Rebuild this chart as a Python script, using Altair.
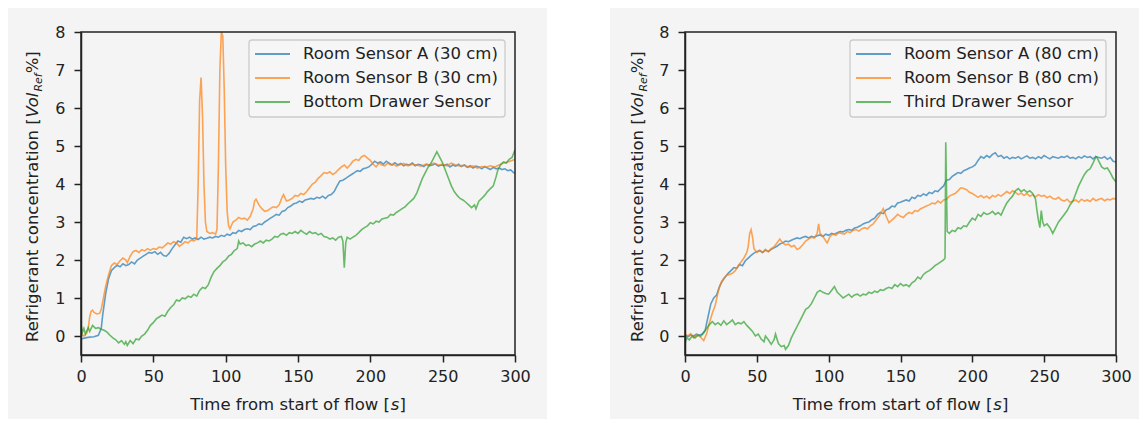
import altair as alt
import pandas as pd

# ---------------- data ----------------
LEFT_A = [(0,-0.08),(3,-0.05),(6,-0.03),(9,-0.02),(12,0.02),(14,0.2),(15,0.55),(17,1.1),(19,1.5),(21,1.72),
(23,1.8),(25,1.86),(27,1.82),(29,1.9),(31,1.85),(33,1.88),(35,1.95),(37,1.9),(39,2.0),(41,2.05),(43,2.1),
(45,2.15),(47,2.2),(49,2.18),(51,2.22),(53,2.15),(55,2.2),(57,2.12),(59,2.1),(61,2.18),(63,2.3),(65,2.4),
(67,2.5),(69,2.47),(71,2.6),(73,2.56),(75,2.6),(77,2.55),(79,2.58),(81,2.54),(83,2.6),(85,2.55),(87,2.57),
(89,2.6),(91,2.58),(93,2.62),(95,2.6),(97,2.65),(99,2.62),(101,2.68),(103,2.65),(105,2.72),(107,2.7),
(109,2.78),(111,2.75),(113,2.8),(115,2.82),(117,2.8),(119,2.88),(121,2.9),(123,2.95),(125,2.93),(127,3.0),
(129,3.05),(131,3.1),(133,3.15),(135,3.2),(137,3.18),(139,3.28),(141,3.3),(143,3.38),(145,3.42),(147,3.48),
(149,3.5),(151,3.55),(153,3.52),(155,3.58),(157,3.6),(159,3.62),(161,3.6),(163,3.65),(165,3.63),(167,3.68),
(169,3.62),(171,3.7),(173,3.72),(175,3.8),(177,3.95),(179,4.08),(181,4.1),(183,4.15),(185,4.2),(187,4.25),
(189,4.3),(191,4.35),(193,4.33),(195,4.4),(197,4.42),(199,4.45),(201,4.52),(203,4.6),(205,4.55),(207,4.58),
(209,4.52),(211,4.6),(213,4.55),(215,4.5),(217,4.56),(219,4.5),(221,4.54),(223,4.48),(225,4.52),(227,4.5),
(229,4.55),(231,4.48),(233,4.52),(235,4.5),(237,4.46),(239,4.52),(241,4.48),(243,4.5),(245,4.53),(247,4.47),
(249,4.5),(251,4.48),(253,4.52),(255,4.45),(257,4.5),(259,4.47),(261,4.52),(263,4.46),(265,4.5),(267,4.44),
(269,4.48),(271,4.42),(273,4.47),(275,4.45),(277,4.4),(279,4.46),(281,4.42),(283,4.38),(285,4.44),(287,4.4),
(289,4.42),(291,4.38),(293,4.4),(295,4.35),(297,4.37),(299,4.3),(300,4.28)]

LEFT_B = [(0,0.05),(2,0.0),(4,0.08),(5,0.2),(6,0.5),(7,0.65),(8,0.68),(9,0.62),(11,0.58),(13,0.6),(14,0.7),
(15,0.9),(17,1.3),(19,1.6),(21,1.85),(23,1.92),(25,1.88),(27,1.98),(29,2.05),(31,2.0),(32,1.93),(34,2.1),
(36,2.22),(38,2.25),(40,2.2),(42,2.27),(44,2.24),(46,2.3),(48,2.26),(50,2.3),(52,2.28),(54,2.34),(56,2.32),
(58,2.38),(60,2.45),(62,2.42),(64,2.48),(66,2.45),(68,2.36),(70,2.42),(72,2.48),(74,2.45),(76,2.52),(78,2.5),
(80,2.55),(81,4.0),(82,6.2),(83,6.8),(84,5.8),(85,4.0),(86,3.0),(87,2.75),(89,2.7),(91,2.72),(93,2.68),
(94,2.8),(95,4.5),(96,7.0),(97,8.0),(98,7.9),(99,6.5),(100,4.5),(101,3.3),(102,2.9),(103,2.82),(105,3.0),
(107,3.05),(109,3.12),(111,3.08),(113,3.1),(115,3.05),(117,3.15),(119,3.35),(120,3.55),(121,3.6),(123,3.45),
(125,3.35),(127,3.28),(129,3.3),(131,3.36),(133,3.4),(135,3.38),(137,3.45),(139,3.65),(140,3.72),(142,3.55),
(144,3.58),(146,3.62),(148,3.7),(150,3.68),(152,3.75),(154,3.72),(156,3.8),(158,3.9),(160,4.0),(162,4.05),
(164,4.15),(166,4.22),(168,4.3),(170,4.28),(172,4.32),(174,4.25),(176,4.3),(178,4.38),(180,4.45),(182,4.5),
(184,4.42),(186,4.5),(188,4.6),(190,4.65),(192,4.62),(194,4.72),(196,4.75),(198,4.68),(200,4.62),(202,4.52),
(204,4.45),(206,4.55),(208,4.5),(210,4.48),(212,4.55),(214,4.5),(216,4.52),(218,4.47),(220,4.5),(223,4.54),
(226,4.48),(229,4.52),(232,4.5),(235,4.47),(238,4.52),(241,4.5),(244,4.55),(247,4.5),(250,4.52),(253,4.48),
(256,4.55),(259,4.5),(262,4.47),(265,4.5),(268,4.44),(271,4.48),(274,4.42),(277,4.46),(280,4.44),(283,4.48),
(286,4.45),(289,4.5),(292,4.55),(295,4.58),(298,4.62),(300,4.65)]

LEFT_C = [(0,0.3),(1,0.1),(2,0.2),(3,0.05),(5,0.22),(6,0.12),(8,0.28),(10,0.2),(12,0.22),(14,0.18),(16,0.15),
(18,0.1),(20,0.02),(22,-0.05),(24,-0.1),(26,-0.18),(28,-0.12),(30,-0.22),(31,-0.15),(32,-0.25),(34,-0.12),
(36,-0.2),(38,-0.08),(40,-0.1),(42,0.0),(44,0.05),(46,0.15),(48,0.28),(50,0.35),(52,0.45),(54,0.5),(56,0.55),
(58,0.52),(60,0.65),(62,0.75),(64,0.82),(66,0.95),(68,0.92),(70,1.0),(72,0.98),(74,1.05),(76,1.02),(78,1.1),
(80,1.05),(82,1.2),(84,1.28),(86,1.25),(88,1.35),(90,1.55),(92,1.7),(94,1.78),(96,1.85),(98,1.95),(100,2.0),
(102,2.1),(104,2.15),(106,2.25),(108,2.3),(109,2.5),(110,2.42),(112,2.45),(114,2.38),(116,2.4),(118,2.35),
(120,2.42),(122,2.45),(124,2.5),(126,2.45),(128,2.52),(130,2.5),(132,2.55),(134,2.62),(136,2.6),(138,2.68),
(140,2.7),(142,2.65),(144,2.72),(146,2.7),(148,2.75),(150,2.7),(152,2.78),(154,2.72),(156,2.68),(158,2.75),
(160,2.7),(162,2.72),(164,2.66),(166,2.7),(168,2.62),(170,2.6),(172,2.55),(174,2.58),(176,2.52),(178,2.6),
(180,2.62),(181,2.5),(182,1.8),(183,2.45),(184,2.6),(186,2.55),(188,2.6),(190,2.65),(192,2.72),(194,2.8),
(196,2.85),(198,2.9),(200,2.98),(202,2.95),(204,3.02),(206,3.0),(208,3.08),(210,3.1),(212,3.12),(214,3.2),
(216,3.18),(218,3.25),(220,3.3),(222,3.35),(224,3.4),(226,3.48),(228,3.55),(230,3.62),(232,3.75),(234,3.95),
(236,4.15),(238,4.3),(240,4.45),(242,4.55),(244,4.7),(246,4.85),(248,4.7),(250,4.55),(252,4.35),(254,4.15),
(256,3.95),(258,3.8),(260,3.7),(262,3.62),(264,3.58),(266,3.52),(268,3.45),(270,3.38),(272,3.45),(273,3.35),
(275,3.55),(277,3.62),(279,3.7),(281,3.8),(283,3.88),(285,3.95),(287,4.2),(288,4.35),(290,4.5),(292,4.58),
(294,4.55),(296,4.65),(298,4.7),(300,4.9)]

RIGHT_A = [(0,0.02),(2,-0.02),(4,0.03),(6,0.0),(8,0.05),(10,0.02),(12,0.05),(14,0.15),(16,0.5),(18,0.85),
(20,1.0),(22,1.08),(24,1.3),(26,1.45),(28,1.55),(30,1.65),(32,1.72),(34,1.8),(36,1.78),(38,1.88),(40,1.85),
(42,1.98),(44,2.05),(46,2.12),(48,2.18),(50,2.22),(52,2.25),(54,2.2),(56,2.26),(58,2.22),(60,2.28),(62,2.32),
(64,2.36),(66,2.42),(68,2.45),(70,2.5),(72,2.48),(74,2.52),(76,2.55),(78,2.58),(80,2.56),(82,2.6),(84,2.62),
(86,2.58),(88,2.62),(90,2.6),(92,2.64),(94,2.66),(96,2.62),(98,2.68),(100,2.65),(102,2.7),(104,2.68),
(106,2.72),(108,2.75),(110,2.74),(112,2.78),(114,2.8),(116,2.78),(118,2.84),(120,2.86),(122,2.9),(124,2.95),
(126,2.98),(128,3.0),(130,3.06),(132,3.1),(134,3.2),(136,3.25),(138,3.22),(140,3.32),(142,3.35),(144,3.42),
(146,3.4),(148,3.5),(150,3.52),(152,3.55),(154,3.58),(156,3.55),(158,3.65),(160,3.62),(162,3.7),(164,3.68),
(166,3.74),(168,3.7),(170,3.78),(172,3.75),(174,3.82),(176,3.8),(178,3.88),(180,3.95),(182,4.1),(184,4.12),
(186,4.2),(188,4.25),(190,4.3),(192,4.28),(194,4.35),(196,4.38),(198,4.42),(200,4.45),(202,4.5),(204,4.62),
(206,4.72),(208,4.68),(210,4.75),(212,4.7),(214,4.78),(216,4.82),(218,4.72),(220,4.75),(222,4.68),(224,4.72),
(226,4.66),(228,4.7),(230,4.68),(232,4.72),(234,4.66),(236,4.7),(238,4.74),(240,4.68),(242,4.7),(244,4.66),
(246,4.72),(248,4.68),(250,4.75),(252,4.7),(254,4.66),(256,4.72),(258,4.7),(260,4.68),(262,4.72),(264,4.7),
(266,4.74),(268,4.68),(270,4.7),(272,4.66),(274,4.72),(276,4.68),(278,4.74),(280,4.7),(282,4.72),(284,4.66),
(286,4.72),(288,4.7),(290,4.68),(292,4.72),(294,4.65),(296,4.7),(298,4.6),(300,4.58)]

RIGHT_B = [(0,0.05),(2,0.0),(4,0.06),(6,-0.05),(8,0.02),(10,0.0),(12,-0.08),(13,-0.12),(15,0.05),(17,0.35),
(19,0.6),(21,0.8),(23,1.15),(25,1.4),(27,1.52),(29,1.6),(31,1.62),(33,1.65),(35,1.72),(37,1.85),(39,1.95),
(41,2.05),(43,2.2),(44,2.35),(45,2.7),(46,2.8),(47,2.6),(48,2.3),(50,2.2),(52,2.25),(54,2.2),(56,2.28),
(58,2.22),(60,2.3),(62,2.35),(64,2.45),(66,2.55),(68,2.45),(70,2.4),(72,2.42),(74,2.35),(76,2.38),(78,2.28),
(80,2.32),(82,2.4),(84,2.5),(86,2.55),(88,2.6),(90,2.58),(92,2.7),(93,2.95),(94,2.7),(96,2.62),(98,2.5),
(99,2.45),(101,2.62),(103,2.68),(105,2.65),(107,2.72),(109,2.7),(111,2.68),(113,2.75),(115,2.72),(117,2.78),
(119,2.8),(121,2.76),(123,2.82),(125,2.85),(127,2.82),(129,2.9),(131,2.95),(133,3.05),(135,3.15),(137,3.28),
(138,3.35),(140,3.15),(142,2.98),(144,3.05),(146,3.12),(148,3.2),(150,3.15),(152,3.12),(154,3.2),(156,3.25),
(158,3.22),(160,3.3),(162,3.28),(164,3.35),(166,3.38),(168,3.42),(170,3.45),(172,3.5),(174,3.48),(176,3.55),
(178,3.5),(180,3.58),(182,3.6),(184,3.68),(186,3.72),(188,3.75),(190,3.82),(192,3.9),(194,3.88),(196,3.85),
(198,3.78),(200,3.75),(202,3.7),(204,3.65),(206,3.7),(208,3.64),(210,3.68),(212,3.62),(214,3.7),(216,3.66),
(218,3.72),(220,3.68),(222,3.74),(224,3.8),(226,3.75),(228,3.82),(230,3.78),(232,3.72),(234,3.76),(236,3.7),
(238,3.75),(240,3.68),(242,3.72),(244,3.66),(246,3.72),(248,3.68),(250,3.7),(252,3.64),(254,3.68),(256,3.62),
(258,3.6),(260,3.65),(262,3.58),(264,3.55),(266,3.6),(268,3.52),(270,3.55),(272,3.58),(274,3.52),(276,3.6),
(278,3.55),(280,3.58),(282,3.54),(284,3.62),(286,3.56),(288,3.6),(290,3.62),(292,3.56),(294,3.6),(296,3.58),
(298,3.62),(300,3.6)]

RIGHT_C = [(0,-0.2),(1,-0.05),(3,-0.1),(5,0.0),(7,-0.05),(9,0.02),(11,0.0),(13,0.08),(15,0.2),(17,0.3),
(19,0.38),(21,0.3),(23,0.35),(25,0.28),(27,0.4),(29,0.3),(31,0.36),(33,0.42),(35,0.3),(37,0.35),(39,0.32),
(41,0.38),(43,0.28),(45,0.2),(47,0.12),(49,0.0),(51,0.05),(53,-0.08),(55,-0.15),(56,0.0),(58,-0.1),(60,-0.22),
(62,-0.1),(63,0.05),(65,-0.2),(67,-0.28),(69,-0.25),(70,-0.35),(72,-0.25),(74,-0.05),(76,0.1),(78,0.25),
(80,0.4),(82,0.55),(84,0.7),(86,0.75),(88,0.85),(90,1.0),(92,1.15),(94,1.2),(96,1.15),(98,1.12),(100,1.1),
(102,1.2),(104,1.3),(106,1.15),(108,1.08),(110,1.0),(112,1.05),(114,1.1),(116,1.02),(118,1.08),(120,1.1),
(122,1.05),(124,1.1),(126,1.08),(128,1.15),(130,1.12),(132,1.18),(134,1.15),(136,1.22),(138,1.2),(140,1.25),
(142,1.28),(144,1.25),(146,1.35),(148,1.3),(150,1.38),(152,1.32),(154,1.35),(156,1.3),(158,1.4),(160,1.45),
(162,1.55),(164,1.5),(166,1.62),(168,1.68),(170,1.72),(172,1.78),(174,1.85),(176,1.9),(178,1.95),(180,2.0),
(181,2.05),(181.5,5.1),(182.5,2.75),(184,2.7),(186,2.78),(188,2.75),(190,2.85),(192,2.82),(194,2.9),
(196,2.88),(198,3.0),(200,3.1),(202,3.05),(204,3.2),(206,3.15),(208,3.25),(210,3.2),(212,3.22),(214,3.28),
(216,3.2),(218,3.25),(220,3.18),(222,3.35),(224,3.5),(226,3.6),(228,3.68),(230,3.82),(232,3.88),(234,3.8),
(236,3.85),(238,3.78),(240,3.82),(242,3.75),(244,3.6),(245,3.3),(246,3.05),(247,2.85),(248,3.3),(249,3.0),
(250,2.9),(252,2.95),(254,2.85),(256,2.7),(258,2.85),(260,3.0),(262,3.1),(264,3.2),(266,3.3),(268,3.45),
(270,3.55),(272,3.75),(274,3.95),(276,4.1),(278,4.25),(280,4.35),(282,4.4),(284,4.55),(286,4.72),(287,4.68),
(288,4.6),(290,4.45),(292,4.4),(294,4.42),(296,4.3),(298,4.15),(300,4.05)]

LEFT_NAMES = ["Room Sensor A (30 cm)", "Room Sensor B (30 cm)", "Bottom Drawer Sensor"]
RIGHT_NAMES = ["Room Sensor A (80 cm)", "Room Sensor B (80 cm)", "Third Drawer Sensor"]
COLORS = ["#1f77b4", "#ff7f0e", "#2ca02c"]
X_TICKS = [0, 50, 100, 150, 200, 250, 300]
Y_TICKS = [0, 1, 2, 3, 4, 5, 6, 7, 8]
Y_TITLE = ["Refrigerant concentration [", "Vol", "Ref", "%]"]
X_TITLE = ["Time from start of flow [", "s", "]"]

# ---------------- style ----------------
FONT = "DejaVu Sans"
BG = "#f4f4f4"
INK = "#222222"
FS = 16.5
# DejaVu Sans advance widths (units per em = 2048) for text placement
ADV = {"R":1423,"e":1260,"f":721,"r":842,"i":569,"g":1300,"a":1255,"n":1298,"t":803," ":651,"c":1126,
       "o":1253,"[":799,"V":1401,"l":569,"%":1946,"]":799,"T":1251,"m":1995,"s":1067,"w":1675}


def tw(s, size):
    return sum(ADV.get(ch, 1200) for ch in s) / 2048.0 * size


ONE = pd.DataFrame({"k": [0]})


def txt(text, x, y, size=FS, italic=False, angle=0, align="left", baseline="alphabetic"):
    kw = dict(text=text, font=FONT, fontSize=size, color=INK, align=align, baseline=baseline, angle=angle)
    if italic:
        kw["fontStyle"] = "italic"
    return alt.Chart(ONE).mark_text(**kw).encode(x=alt.value(x), y=alt.value(y))


def panel(series, names, W, H, bg_left, bg_right, ytx):
    rows = []
    for name, pts in zip(names, series):
        for t, v in pts:
            rows.append({"t": t, "v": v, "s": name})
    df = pd.DataFrame(rows)

    bg = alt.Chart(ONE).mark_rect(color=BG).encode(
        x=alt.value(bg_left), x2=alt.value(W + bg_right), y=alt.value(-24), y2=alt.value(H + 64))

    axis_common = dict(title=None, grid=False, zindex=1, domainColor=INK, domainWidth=1.5,
                       tickColor=INK, tickWidth=1.5, tickSize=7, labelFont=FONT, labelFontSize=16,
                       labelColor=INK, labelFlush=False, labelOverlap=False, labelBound=False)
    lines = alt.Chart(df).mark_line(strokeWidth=1.6, opacity=0.7, clip=True).encode(
        x=alt.X("t:Q", scale=alt.Scale(domain=[0, 300], nice=False, zero=False),
                axis=alt.Axis(values=X_TICKS, labelPadding=6, **axis_common)),
        y=alt.Y("v:Q", scale=alt.Scale(domain=[-0.5, 8], nice=False, zero=False),
                axis=alt.Axis(values=Y_TICKS, labelPadding=9, **axis_common)),
        color=alt.Color("s:N", scale=alt.Scale(domain=names, range=COLORS), legend=None),
    )

    frame = alt.Chart(ONE).mark_rect(fillOpacity=0, stroke=INK, strokeWidth=1.5).encode(
        x=alt.value(0), x2=alt.value(W), y=alt.value(0), y2=alt.value(H))

    # legend box (upper right, inside the plot)
    lx0, lx1 = W - 266, W - 10
    box = alt.Chart(ONE).mark_rect(fill="#f6f6f6", stroke="#cccccc", strokeWidth=1.3, cornerRadius=3).encode(
        x=alt.value(lx0), x2=alt.value(lx1), y=alt.value(8), y2=alt.value(85))
    layers = [bg, lines, frame, box]
    for i, (nm, col) in enumerate(zip(names, COLORS)):
        yy = 22 + 24 * i
        layers.append(alt.Chart(ONE).mark_rule(color=col, strokeWidth=2, opacity=0.7).encode(
            x=alt.value(lx0 + 6), x2=alt.value(lx0 + 41), y=alt.value(yy)))
        layers.append(txt(nm, lx0 + 54, yy, baseline="middle"))

    # y-axis title (rotated, with italic Vol and subscript Ref)
    y0 = 310
    w1 = tw(Y_TITLE[0], FS)
    w2 = tw(Y_TITLE[1], FS)
    w3 = tw(Y_TITLE[2], 11)
    layers.append(txt(Y_TITLE[0], ytx, y0, angle=270))
    layers.append(txt(Y_TITLE[1], ytx, y0 - w1, italic=True, angle=270))
    layers.append(txt(Y_TITLE[2], ytx + 3.5, y0 - w1 - w2, size=11, italic=True, angle=270))
    layers.append(txt(Y_TITLE[3], ytx, y0 - w1 - w2 - w3, angle=270))

    # x-axis title with italic s
    a = tw(X_TITLE[0], FS)
    b = tw(X_TITLE[1], FS)
    c = tw(X_TITLE[2], FS)
    xs = W / 2 - (a + b + c) / 2
    layers.append(txt(X_TITLE[0], xs, 378))
    layers.append(txt(X_TITLE[1], xs + a, 378, italic=True))
    layers.append(txt(X_TITLE[2], xs + a + b, 378))

    return alt.layer(*layers).properties(width=W, height=H)


left = panel([LEFT_A, LEFT_B, LEFT_C], LEFT_NAMES, 434, 323, -73, 32, -43)
right = panel([RIGHT_A, RIGHT_B, RIGHT_C], RIGHT_NAMES, 431, 323, -75, 23, -42)

chart = alt.hconcat(left, right, spacing=63).properties(padding=0, background="white").configure_view(
    stroke=None)

chart.save("out.html", embed_options={"renderer": "svg", "actions": False})
